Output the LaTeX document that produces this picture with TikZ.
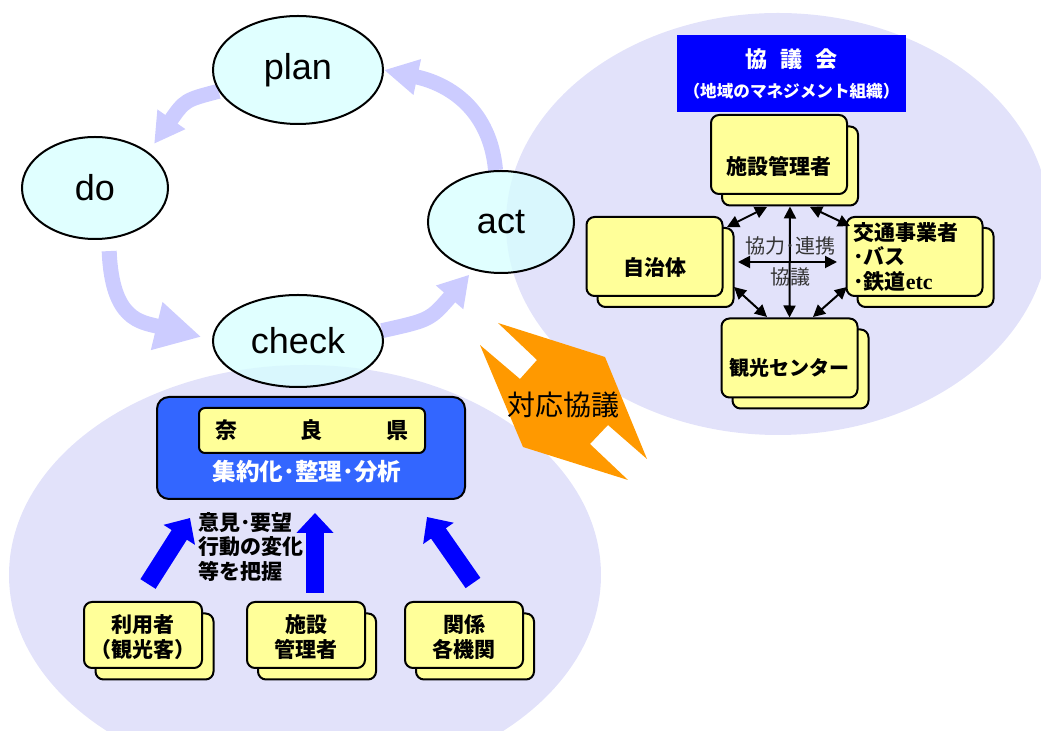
\documentclass[tikz,border=0pt]{standalone}
\usepackage{fontspec}
\setmainfont{Liberation Sans}
\newfontfamily\jp{Noto Sans CJK JP}
\newfontfamily\tms{Liberation Serif}
\usetikzlibrary{shapes.geometric,arrows.meta}
\pgfdeclarelayer{back}
\pgfsetlayers{back,main}
\definecolor{bg}{RGB}{226,226,250}
\definecolor{cy}{RGB}{214,255,255}
\definecolor{lav}{RGB}{204,204,255}
\definecolor{yel}{RGB}{255,255,153}
\definecolor{bb}{RGB}{51,102,255}
\definecolor{pb}{RGB}{0,0,255}
\definecolor{org}{RGB}{255,153,0}

\begin{document}
\begin{tikzpicture}[x=0.5pt,y=-0.5pt,
  pdca/.style={ellipse,draw,line width=1pt,fill=cy,fill opacity=0.75,text opacity=1,inner sep=0pt,font=\fontsize{18}{20}\selectfont},
  cyc/.style={line width=7.5pt,draw=lav},
  ybox/.style={draw,line width=1pt,fill=yel,rounded corners=4pt,minimum width=68pt,minimum height=39.5pt,inner sep=0pt},
  sbox/.style={ybox,minimum width=59pt,minimum height=33pt},
  jb/.style={font=\jp\bfseries\fontsize{10.5}{12.25}\selectfont},
  dar/.style={line width=1pt,{Triangle[length=6pt,width=6pt]}-{Triangle[length=6pt,width=6pt]}},
  bar/.style={line width=9pt,draw=pb,-{Triangle[length=10pt,width=18pt]}}]
\useasboundingbox (0,0) rectangle (1041,731);
\node[pdca,minimum width=85pt,minimum height=54pt] (plan) at (298,70) {plan};
\node[pdca,minimum width=73pt,minimum height=51pt] (do) at (95,188) {do};
\node[pdca,minimum width=85pt,minimum height=46pt] (check) at (298,341) {check};
\node[pdca,minimum width=73pt,minimum height=51pt] (act) at (501,222) {act};
\begin{pgfonlayer}{back}
\fill[bg] (778,224) ellipse [x radius=272, y radius=211];
\fill[bg] (305,575) ellipse [x radius=296, y radius=210];
\fill[org] (498,323) -- (605,357) -- (647,459) -- (608,425) -- (590,444) -- (628,480)
  -- (523,447) -- (480,345) -- (520,379) -- (537,360) -- cycle;
\draw[cyc,-{Triangle[length=15pt,width=16pt]},shorten >=5pt] (plan.195) .. controls (185,100) .. (do.34);
\draw[cyc,-{Triangle[length=23pt,width=23pt]},shorten <=6pt,shorten >=5.5pt] (do.285) .. controls (112,320) and (140,322) .. (check.179);
\draw[cyc,-{Triangle[length=15pt,width=17pt]},shorten >=3pt] (check.7) .. controls (430,320) .. (act.240);
\draw[cyc,-{Triangle[length=17pt,width=17pt]}] (act.96) .. controls (490,110) and (450,84) .. (plan.east);
\end{pgfonlayer}
\node[font=\jp\fontsize{14}{16}\selectfont] (taio) at (563,405) {対応協議};

\node[fill=pb,minimum width=114.5pt,minimum height=38.5pt,inner sep=0pt] (kyogikai) at (791.5,73.5) {};
\node[font=\jp\bfseries\fontsize{11}{13}\selectfont,text=white] (kyogi1) at (791.5,59) {協\hspace{0.6em}議\hspace{0.6em}会};
\node[font=\jp\bfseries\fontsize{8.3}{10}\selectfont,text=white] (kyogi2) at (791.5,91) {（地域のマネジメント組織）};

\node[ybox] (shisetsub) at (790,166) {};
\node[ybox] (shisetsu) at (779,154.5) {};
\node[jb] (shisetsut) at (779,166) {施設管理者};
\node[ybox] (jichib) at (665.5,267.5) {};
\node[ybox] (jichi) at (654.5,256.5) {};
\node[jb] (jichit) at (655,267) {自治体};
\node[ybox] (kotsub) at (925.5,267.5) {};
\node[ybox] (kotsu) at (914.5,256.5) {};
\node[jb,align=left,anchor=west,inner sep=0pt] (kotsut) at (853,257) {交通事業者\\･バス\\･鉄道{\tms\bfseries\fontsize{11}{12}\selectfont etc}};
\node[ybox] (kankob) at (800.5,369) {};
\node[ybox] (kanko) at (789.5,358) {};
\node[jb,font=\jp\bfseries\fontsize{10}{12}\selectfont] (kankot) at (789.5,368) {観光センター};

\coordinate (hl) at (738,262);
\coordinate (hr) at (837,262);
\coordinate (tla) at (727,227);
\coordinate (tlb) at (767,207);
\coordinate (tra) at (810,207);
\coordinate (trb) at (850,226);
\coordinate (bla) at (734,287);
\coordinate (blb) at (767,317);
\coordinate (bra) at (847,287);
\coordinate (brb) at (813,317);
\draw[dar] (shisetsub.south) -- (kanko.north);
\draw[dar] (hl) -- (hr);
\draw[dar] (tla) -- (tlb);
\draw[dar] (tra) -- (trb);
\draw[dar] (bla) -- (blb);
\draw[dar] (bra) -- (brb);
\node[font=\jp\fontsize{10}{12}\selectfont,text=black!80] (renkei) at (790,246) {協力･連携};
\node[font=\jp\fontsize{10}{12}\selectfont,text=black!80] (kyogi) at (790,277) {協議};

\node[draw,fill=bb,line width=1pt,rounded corners=6pt,minimum width=154pt,minimum height=51pt,inner sep=0pt] (nara) at (311,448) {};
\node[ybox,rounded corners=3pt,minimum width=113pt,minimum height=22.5pt,font=\jp\bfseries\fontsize{11}{13}\selectfont] (naraken) at (312,430.5) {奈\hspace{2.9em}良\hspace{2.9em}県};
\node[text=white,font=\jp\bfseries\fontsize{11.8}{13}\selectfont] (shuyaku) at (307,472) {集約化･整理･分析};

\coordinate (a1s) at (148,584);
\coordinate (a1e) at (190,518);
\coordinate (a2s) at (315,593);
\coordinate (a2e) at (315,513);
\coordinate (a3s) at (473,583);
\coordinate (a3e) at (427,517);
\draw[bar] (a1s) -- (a1e);
\draw[bar] (a2s) -- (a2e);
\draw[bar] (a3s) -- (a3e);
\node[jb,align=left,anchor=west,inner sep=0pt] (iken) at (198,547) {意見･要望\\行動の変化\\等を把握};

\node[sbox] (riyob) at (154.5,646.5) {};
\node[sbox] (riyo) at (143,635) {};
\node[jb,align=center] (riyot) at (143,637) {利用者\\（観光客）};
\node[sbox] (kanrib) at (317,646.5) {};
\node[sbox] (kanri) at (306,635) {};
\node[jb,align=center] (kanrit) at (306,637) {施設\\管理者};
\node[sbox] (kankeib) at (475,646.5) {};
\node[sbox] (kankei) at (464,635) {};
\node[jb,align=center] (kankeit) at (464,637) {関係\\各機関};
\end{tikzpicture}
\end{document}
